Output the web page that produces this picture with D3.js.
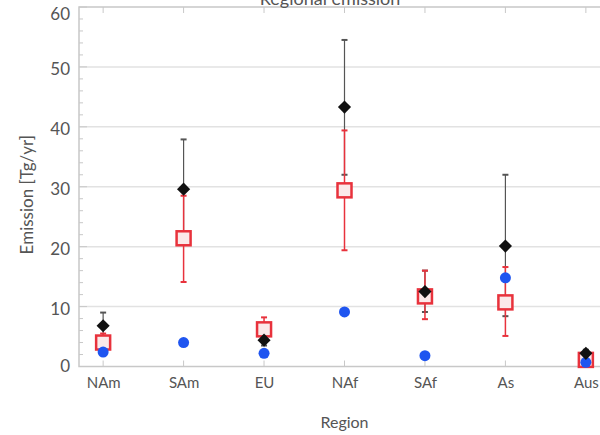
<!DOCTYPE html>
<html><head><meta charset="utf-8">
<script src="https://cdn.jsdelivr.net/npm/d3@7"></script>
<style>body{margin:0;background:#fff}svg{display:block}text{font-family:"Lato","DejaVu Sans",sans-serif}</style>
</head><body><svg id="c" width="600" height="435"></svg>
<script>
const regions = ["NAm","SAm","EU","NAf","SAf","As","Aus"];
const blackVal = [6.8, 29.6, 4.4, 43.3, 12.5, 20.1, 2.2];
const blackLo  = [5.0, 21.0, 3.5, 32.0, 9.1, 8.4, 1.6];
const blackHi  = [9.0, 37.9, 5.5, 54.5, 16.0, 32.0, 2.8];
const redVal   = [4.0, 21.4, 6.2, 29.4, 11.7, 10.7, 1.1];
const redLo    = [2.8, 14.1, 4.5, 19.4, 7.9, 5.1, 0.6];
const redHi    = [5.5, 28.5, 8.2, 39.4, 16.0, 16.6, 1.8];
const blueVal  = [2.4, 4.0, 2.2, 9.1, 1.8, 14.8, 0.7];
const yTicks   = [0, 10, 20, 30, 40, 50, 60];

const svg = d3.select("#c");
const L = 79, R = 610, T = 7, B = 366.5;
const x = d3.scaleLinear().domain([0.7, 7.3]).range([L, R]);
const y = d3.scaleLinear().domain([0, 60]).range([B, T]);
const idx = regions.map((d, i) => i + 1);

// gridlines
svg.append("g").selectAll("line").data(yTicks.slice(1, -1)).join("line")
  .attr("x1", L).attr("x2", R).attr("y1", d => y(d)).attr("y2", d => y(d))
  .attr("stroke", "#e2e2e2").attr("stroke-width", 1.5);

// frame
svg.append("rect").attr("x", L).attr("y", T).attr("width", R - L).attr("height", B - T)
  .attr("fill", "none").attr("stroke", "#c8c8c8").attr("stroke-width", 1.5);

// left axis with minor ticks
const yAxis = d3.axisLeft(y).tickValues(yTicks).tickSize(0).tickPadding(9);
const ga = svg.append("g").attr("transform", `translate(${L},0)`).call(yAxis);
ga.select(".domain").remove();
ga.selectAll("text").attr("font-size", 17).attr("fill", "#555")
  .attr("dy", d => d === 60 ? "0.75em" : (d === 0 ? "0.3em" : "0.45em"));
const minor = d3.range(0, 61, 2);
svg.append("g").selectAll("line").data(minor).join("line")
  .attr("x1", L).attr("x2", d => L + (d % 10 === 0 ? 8 : 4))
  .attr("y1", d => y(d)).attr("y2", d => y(d)).attr("stroke", "#c8c8c8");

// bottom axis
const xAxis = d3.axisBottom(x).tickValues(idx).tickFormat((d, i) => regions[i]).tickSize(0).tickPadding(11);
const gb = svg.append("g").attr("transform", `translate(0,${B})`).call(xAxis);
gb.select(".domain").remove();
gb.selectAll("text").attr("font-size", 15).attr("fill", "#555");
// small ticks top/bottom
[B, T].forEach((yy, k) => {
  svg.append("g").selectAll("line").data(idx).join("line")
    .attr("x1", d => x(d)).attr("x2", d => x(d))
    .attr("y1", yy).attr("y2", k === 0 ? yy - 6 : yy + 6).attr("stroke", "#c8c8c8");
});

// axis titles
svg.append("text").attr("x", x(4)).attr("y", 428).attr("text-anchor", "middle")
  .attr("font-size", 16).attr("fill", "#555").text("Region");
svg.append("text").attr("transform", `translate(33,${(T + B) / 2 + 8}) rotate(-90)`)
  .attr("text-anchor", "middle").attr("font-size", 17).attr("fill", "#555").text("Emission [Tg/yr]");
svg.append("text").attr("x", 330).attr("y", 5).attr("text-anchor", "middle")
  .attr("font-size", 18).attr("fill", "#555").text("Regional emission");

const data = regions.map((r, i) => ({i: i + 1, b: blackVal[i], bl: blackLo[i], bh: blackHi[i],
  r: redVal[i], rl: redLo[i], rh: redHi[i], u: blueVal[i]}));

const gE = svg.append("g");
function errBars(lo, hi, col, w) {
  gE.append("g").selectAll("line").data(data).join("line")
    .attr("x1", d => x(d.i)).attr("x2", d => x(d.i))
    .attr("y1", d => y(d[lo])).attr("y2", d => y(d[hi])).attr("stroke", col).attr("stroke-width", w);
  [lo, hi].forEach(k => gE.append("g").selectAll("line").data(data).join("line")
    .attr("x1", d => x(d.i) - 3).attr("x2", d => x(d.i) + 3)
    .attr("y1", d => y(d[k])).attr("y2", d => y(d[k])).attr("stroke", col).attr("stroke-width", 2));
}
errBars("bl", "bh", "#555", 1.2);
errBars("rl", "rh", "#e8323c", 1.5);

// red squares
svg.append("g").selectAll("rect").data(data).join("rect")
  .attr("x", d => x(d.i) - 7).attr("y", d => y(d.r) - 7).attr("width", 14).attr("height", 14)
  .attr("fill", "#fbe9e9").attr("stroke", "#e8323c").attr("stroke-width", 2.5);

// blue dots
svg.append("g").selectAll("circle").data(data).join("circle")
  .attr("cx", d => x(d.i)).attr("cy", d => y(d.u)).attr("r", 5.5).attr("fill", "#1f55f0");

// black diamonds
svg.append("g").selectAll("path").data(data).join("path")
  .attr("d", d3.symbol(d3.symbolDiamond2, 110))
  .attr("transform", d => `translate(${x(d.i)},${y(d.b)})`).attr("fill", "#111");
</script></body></html>
